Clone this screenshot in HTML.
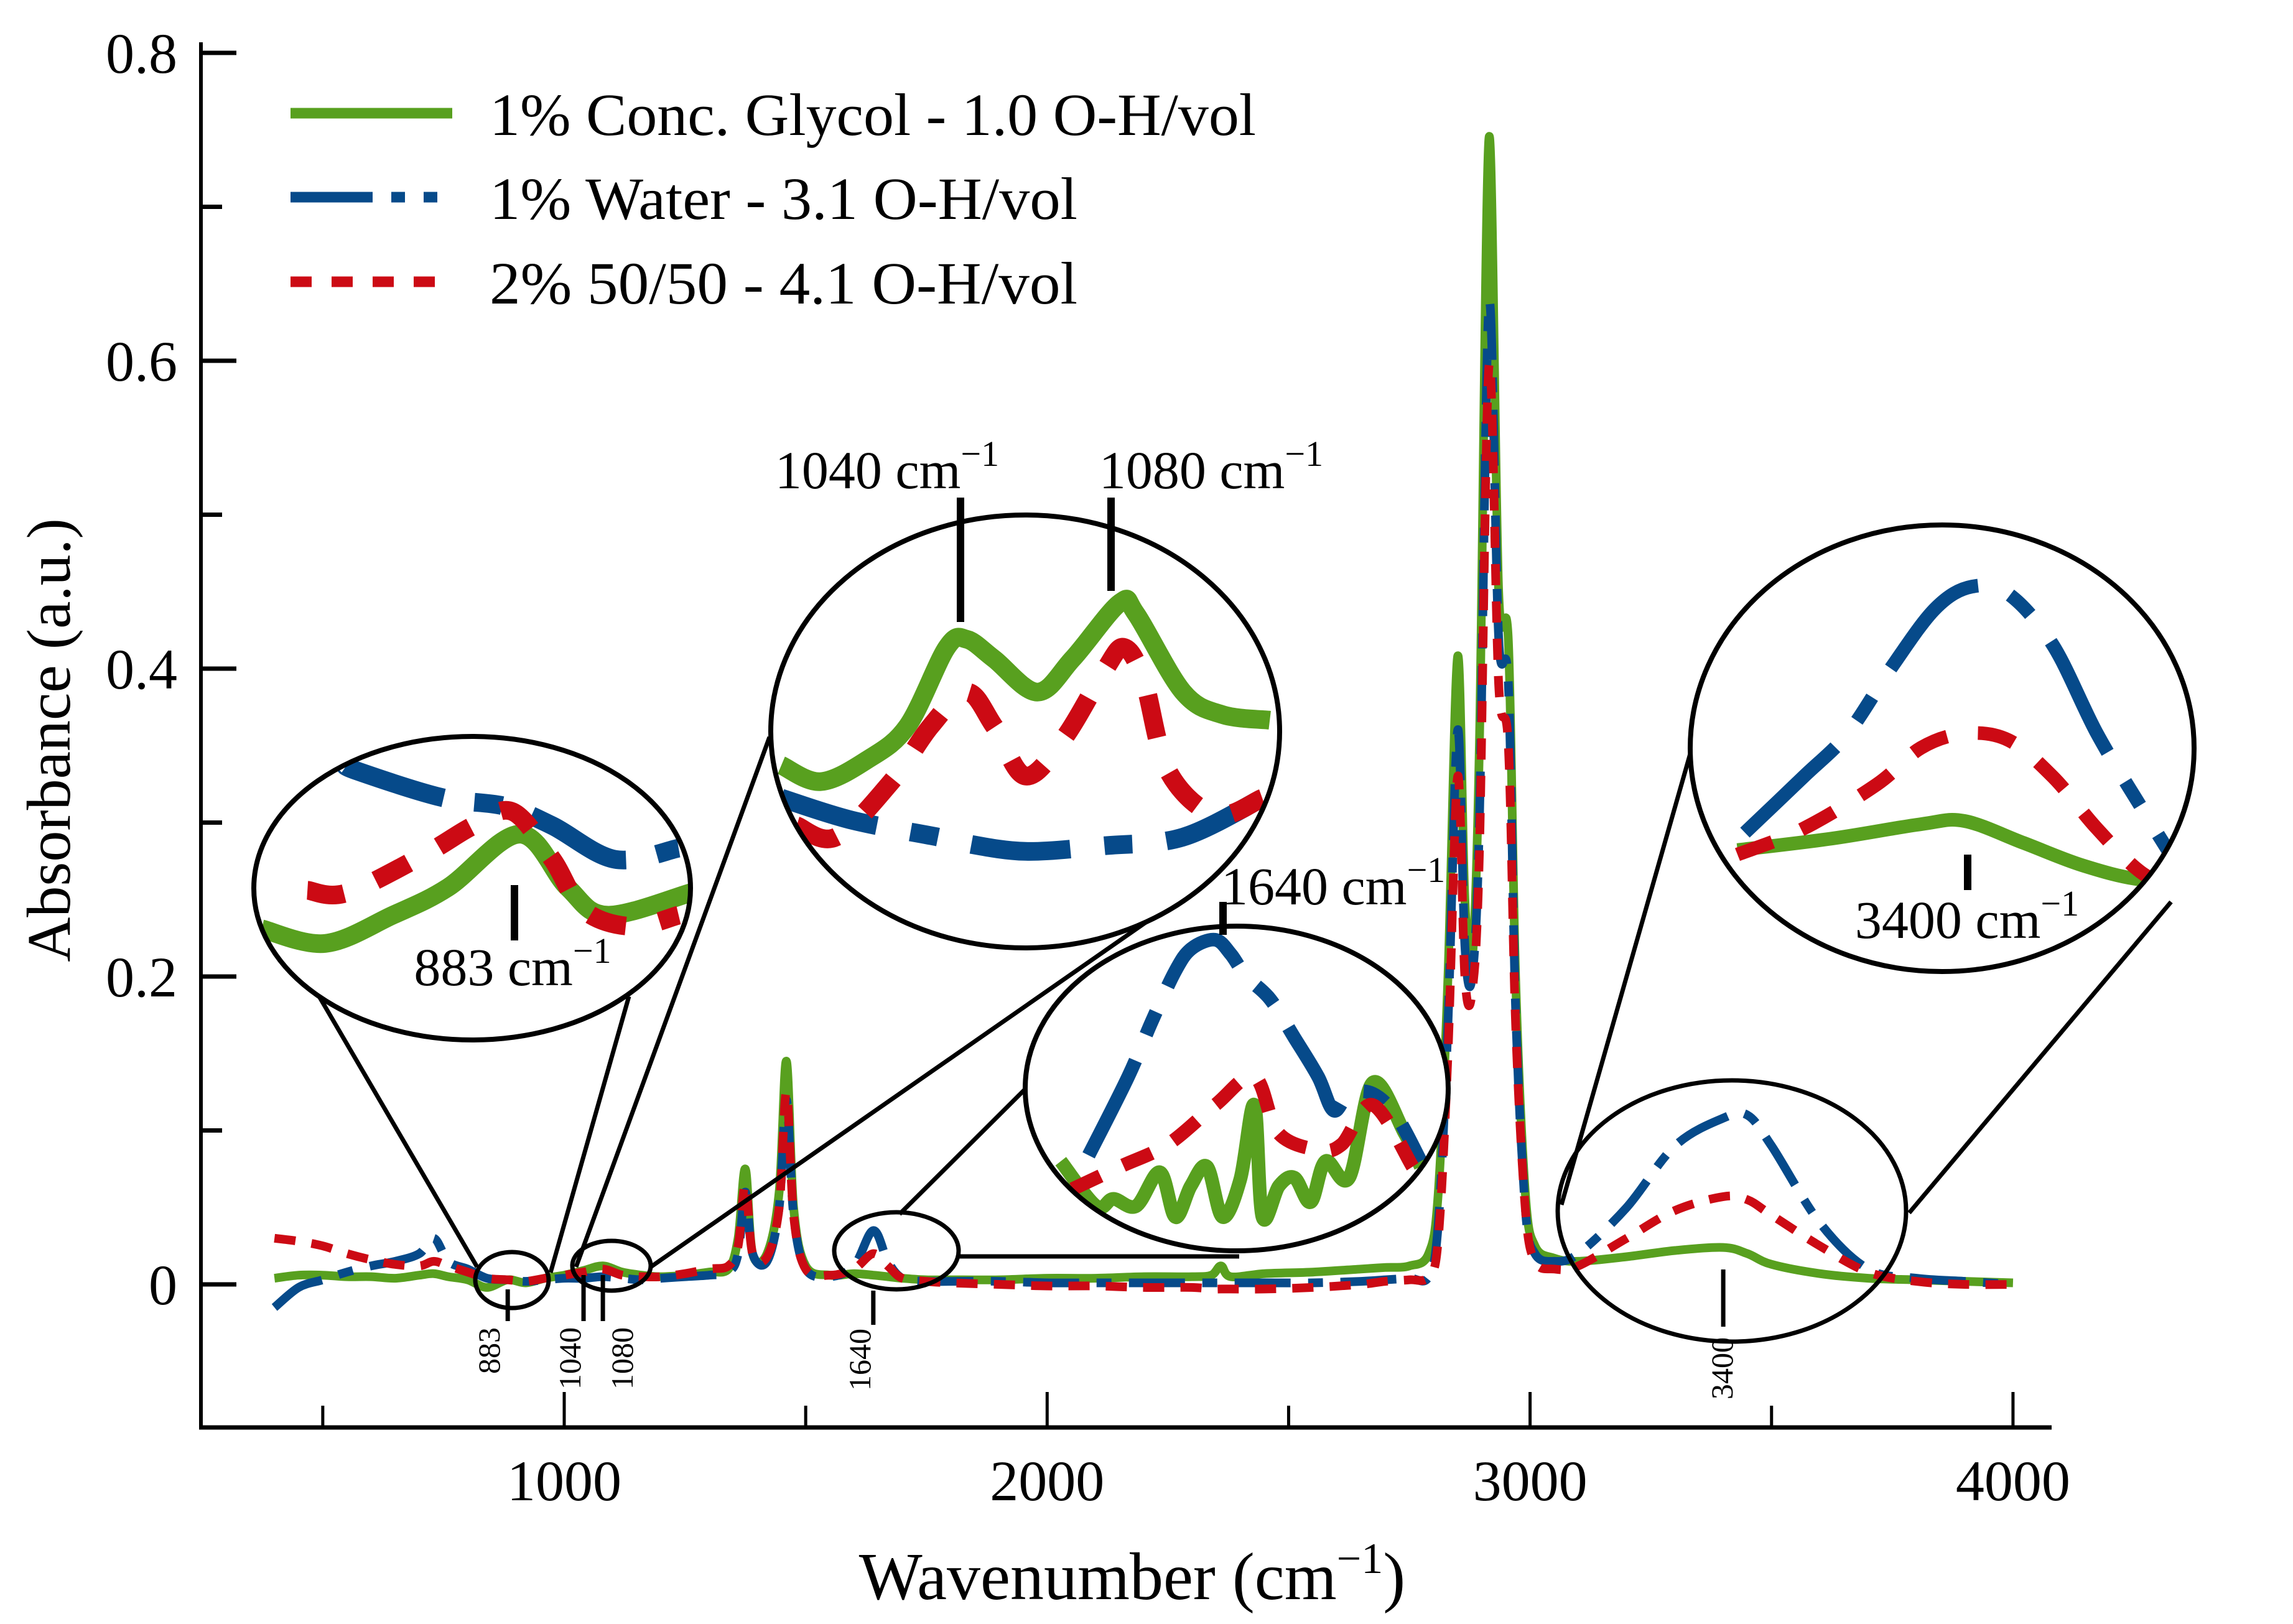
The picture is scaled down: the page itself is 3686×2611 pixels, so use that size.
<!DOCTYPE html>
<html><head><meta charset="utf-8"><style>
html,body{margin:0;padding:0;background:#fff;}
svg{display:block;font-family:"Liberation Serif",serif;}
</style></head><body>
<svg id="chart" width="3686" height="2611" viewBox="0 0 3686 2611" xmlns="http://www.w3.org/2000/svg">
<rect x="0" y="0" width="3686" height="2611" fill="#fff"/>
<g id="axes"></g>
<g id="series"></g>
<g id="zoom"></g>
<g id="legend"></g>
</svg>
<script>
const wavenumbers=[400,450,500,550,600,650,700,730,760,800,840,883,920,960,1000,1040,1080,1120,1160,1200,1250,1300,1340,1360,1375,1390,1420,1445,1460,1475,1500,1550,1600,1640,1670,1700,1750,1800,1900,2000,2100,2200,2300,2340,2360,2380,2450,2550,2650,2700,2750,2790,2810,2830,2850,2865,2880,2895,2915,2935,2955,2970,2990,3010,3050,3100,3200,3300,3400,3450,3500,3600,3700,3800,3900,4000];
const glycolValues=[0.004,0.006,0.006,0.005,0.005,0.004,0.006,0.007,0.005,0.003,-0.002,0.003,0.001,0.004,0.006,0.009,0.012,0.008,0.006,0.005,0.006,0.008,0.010,0.030,0.075,0.020,0.020,0.060,0.145,0.050,0.012,0.006,0.007,0.006,0.005,0.004,0.003,0.003,0.003,0.004,0.004,0.005,0.005,0.006,0.012,0.005,0.007,0.008,0.010,0.011,0.012,0.020,0.060,0.200,0.408,0.250,0.210,0.350,0.745,0.450,0.418,0.200,0.060,0.025,0.017,0.015,0.018,0.022,0.024,0.020,0.013,0.007,0.004,0.003,0.002,0.001];
const waterValues=[-0.015,-0.002,0.003,0.008,0.012,0.015,0.020,0.030,0.015,0.010,0.004,0.003,0.002,0.003,0.004,0.004,0.005,0.004,0.003,0.004,0.005,0.006,0.008,0.020,0.060,0.020,0.015,0.050,0.120,0.045,0.010,0.005,0.012,0.035,0.015,0.004,0.002,0.002,0.002,0.001,0.001,0.001,0.001,0.001,0.001,0.001,0.001,0.001,0.002,0.003,0.004,0.005,0.040,0.170,0.360,0.220,0.200,0.300,0.637,0.420,0.390,0.180,0.050,0.020,0.015,0.020,0.050,0.090,0.108,0.110,0.090,0.040,0.010,0.004,0.002,0.000];
const mixValues=[0.030,0.028,0.025,0.020,0.016,0.013,0.012,0.015,0.012,0.008,0.004,0.003,0.002,0.004,0.006,0.008,0.010,0.006,0.005,0.005,0.007,0.010,0.012,0.025,0.065,0.020,0.018,0.050,0.125,0.045,0.010,0.006,0.010,0.020,0.012,0.004,0.002,0.001,0.000,-0.001,-0.001,-0.002,-0.002,-0.003,-0.003,-0.003,-0.003,-0.002,0.000,0.002,0.003,0.005,0.030,0.150,0.330,0.200,0.190,0.280,0.597,0.390,0.350,0.170,0.050,0.015,0.010,0.012,0.030,0.048,0.057,0.055,0.045,0.025,0.008,0.002,0.000,0.000];
const yTicks=[0,0.2,0.4,0.6,0.8];
const yTickLabels=["0","0.2","0.4","0.6","0.8"];
const yMinorTicks=[0.1,0.3,0.5,0.7];
const xTicks=[1000,2000,3000,4000];
const xTickLabels=["1000","2000","3000","4000"];
const xMinorTicks=[500,1500,2500,3500];
const peakMarkers=[883,1040,1080,1640,3400];
const peakMarkerLabels=["883","1040","1080","1640","3400"];
const legendLabels=["1% Conc. Glycol - 1.0 O-H/vol","1% Water - 3.1 O-H/vol","2% 50/50 - 4.1 O-H/vol"];
// inset 883
const insA_glyWn=[820,836,853,867,885,897,907,928];
const insA_glyV=[3.66,3.18,4.11,5.03,6.78,5.03,4.11,4.85];
const insA_watWn=[841.5,843.4,865.3,881.2,893.2,909,925];
const insA_watV=[9.07,8.89,7.99,7.70,7.06,5.95,6.32];
const insA_mixWn=[831.5,841.5,861.4,873.3,883.2,893.2,901,913.1,925];
const insA_mixV=[4.93,4.85,6.14,7.06,7.52,5.95,4.29,3.74,4.11];
// inset 1040/1080
const insB_glyWn=[992.8,1003.2,1015.7,1026.3,1036.7,1042,1049.2,1060.7,1070.1,1082.6,1086.9,1099.4,1109.8,1122.4];
const insB_glyV=[4.22,3.84,4.35,5.13,6.94,7.13,6.68,5.91,6.68,7.97,7.72,5.91,5.39,5.26];
const insB_watWn=[992.8,1011.5,1034.4,1040.7,1057.6,1078.6,1099.4,1120.4];
const insB_watV=[3.46,2.95,2.56,2.43,2.23,2.36,2.56,3.46];
const insB_mixWn=[996.9,1007.3,1022,1032.5,1042,1049.2,1057.6,1068,1078.6,1083.8,1089,1095.4,1107.9,1120.4];
const insB_mixV=[2.82,2.56,3.84,5.13,5.91,5.13,3.97,4.87,6.42,6.94,6.16,4.09,3.07,3.46];
// inset 1640
const insC_glyWn=[1594.1,1604.1,1609,1615.5,1622.2,1626.6,1631,1635.6,1640,1645,1649,1651.3,1656,1660.4,1665,1669.2,1675.9,1682.6,1691.6,1696.2];
const insC_glyV=[2.76,1.38,1.6,1.38,2.42,1.04,2.0,2.59,1.04,2.2,4.49,1.04,2.0,2.25,1.5,2.76,2.25,5.18,3.63,2.59];
const insC_watWn=[1602,1613.2,1619.9,1626.6,1631.2,1637.9,1642.3,1646.7,1653.5,1660.4,1667.1,1671.5,1675.9,1682.6,1689.3,1696.2];
const insC_watV=[2.94,5.36,7.06,8.62,9.31,9.58,9.14,8.45,7.75,6.56,5.36,4.32,4.84,4.84,4.15,2.76];
const insC_mixWn=[1597.4,1610.9,1624.5,1637.9,1649,1655.8,1667.1,1673.8,1682.6,1693.9];
const insC_mixV=[1.9,2.59,3.28,4.49,5.36,3.63,3.11,3.28,4.49,2.59];
// inset 3400
const insD_glyWn=[3126.3,3239.6,3344.8,3396.7,3467,3536.7,3606.3,3675.9];
const insD_glyV=[2.72,2.98,3.30,3.37,2.88,2.38,2.06,2.06];
const insD_watWn=[3135.2,3204.8,3257.4,3310,3361.9,3405.6,3449.3,3501.9,3554.4,3606.3,3650];
const insD_watV=[3.11,4.36,5.33,6.82,8.13,8.62,8.45,7.31,5.33,3.70,2.38];
const insD_mixWn=[3126.3,3204.8,3292.2,3344.8,3396.7,3449.3,3501.9,3554.4,3606.3,3658.9];
const insD_mixV=[2.62,3.20,4.19,5.01,5.33,5.18,4.36,3.20,2.23,1.73];

const NS="http://www.w3.org/2000/svg";
const GREEN="#58a01f",BLUE="#064a8a",RED="#cc0a14";
function xS(w){return 907+(w-1000)*0.7763;}
function yS(v){return 2065-v*2475;}
function mk(tag,attrs,parent){const e=document.createElementNS(NS,tag);for(const k in attrs)e.setAttribute(k,attrs[k]);parent.appendChild(e);return e;}
function smooth(pts){let d=`M${pts[0][0].toFixed(1)},${pts[0][1].toFixed(1)}`;for(let i=0;i<pts.length-1;i++){const p0=pts[i-1]||pts[i],p1=pts[i],p2=pts[i+1],p3=pts[i+2]||p2;const c1x=p1[0]+(p2[0]-p0[0])/6,c1y=p1[1]+(p2[1]-p0[1])/6,c2x=p2[0]-(p3[0]-p1[0])/6,c2y=p2[1]-(p3[1]-p1[1])/6;d+=` C${c1x.toFixed(1)},${c1y.toFixed(1)} ${c2x.toFixed(1)},${c2y.toFixed(1)} ${p2[0].toFixed(1)},${p2[1].toFixed(1)}`;}return d;}

const axes=document.getElementById('axes');
const al=mk('line',{x1:323,y1:68,x2:323,y2:2298,stroke:'#000','stroke-width':6},axes);


const bl=mk('line',{x1:320,y1:2295,x2:3298,y2:2295,stroke:'#000','stroke-width':7},axes);


yTicks.forEach((v,i)=>{
  const t=mk('line',{x1:323,y1:yS(v),x2:380,y2:yS(v),stroke:'#000','stroke-width':7},axes);
  
  
  const l=mk('text',{x:285,y:yS(v)+32,'text-anchor':'end','font-size':92},axes);
  l.textContent=yTickLabels[i];
  
  
});
yMinorTicks.forEach(v=>{
  const t=mk('line',{x1:323,y1:yS(v),x2:357,y2:yS(v),stroke:'#000','stroke-width':7},axes);
  
  
});
xTicks.forEach((w,i)=>{
  const t=mk('line',{x1:xS(w),y1:2295,x2:xS(w),y2:2238,stroke:'#000','stroke-width':5},axes);
  
  
  const l=mk('text',{x:xS(w),y:2412,'text-anchor':'middle','font-size':92},axes);
  l.textContent=xTickLabels[i];
  
  
});
xMinorTicks.forEach(w=>{
  const t=mk('line',{x1:xS(w),y1:2295,x2:xS(w),y2:2260,stroke:'#000','stroke-width':5},axes);
  
  
});
const xt=mk('text',{x:1820,y:2571,'text-anchor':'middle','font-size':108},axes);
xt.innerHTML='Wavenumber (cm<tspan font-size="70" dy="-42">−1</tspan><tspan dy="42">)</tspan>';


const yt=mk('text',{x:0,y:0,'text-anchor':'middle','font-size':100,transform:'translate(112,1190) rotate(-90)'},axes);
yt.textContent='Absorbance (a.u.)';



const series=document.getElementById('series');
function mainPath(vals,color,dash,name){
  const pts=wavenumbers.map((w,i)=>[xS(w),yS(vals[i])]);
  const p=mk('path',{d:smooth(pts),fill:'none',stroke:color,'stroke-width':14,'stroke-linejoin':'round'},series);
  if(dash)p.setAttribute('stroke-dasharray',dash);
  
  
}
mainPath(glycolValues,GREEN,null,'glycol-line');
mainPath(waterValues,BLUE,'90 28 24 28','water-line');
mainPath(mixValues,RED,'34 26','mix-line');

const markerY=[[2073,2124],[2050,2124],[2050,2124],[2075,2130],[2041,2133]];
const labelDX=[-13,-5,48,-5,15];
const labelEnd=[2134,2134,2134,2136,2150];
peakMarkers.forEach((w,i)=>{
  const m=mk('line',{x1:xS(w),y1:markerY[i][0],x2:xS(w),y2:markerY[i][1],stroke:'#000','stroke-width':7},series);
  
  
  const t=mk('text',{x:0,y:0,'text-anchor':'end','font-size':50,transform:`translate(${xS(w)+labelDX[i]},${labelEnd[i]}) rotate(-90)`},series);
  t.textContent=peakMarkerLabels[i];
  
  
});

const zoom=document.getElementById('zoom');
const conn=[[513,1602,767,2037],[1011,1602,885,2046],[1237,1185,926,2037],[1046,2037,1915,1432],[1446,1952,1649,1750],[1541,2020,1992,2020],[2510,1937,2717,1212],[3069,1950,3490,1450]];
conn.forEach(c=>{
  const l=mk('line',{x1:c[0],y1:c[1],x2:c[2],y2:c[3],stroke:'#000','stroke-width':7},zoom);
  
  
});
const smallCircles=[[823,2058,59,45],[983,2035,63,40],[1441,2011,100,62],[2784,1947,280,210]];
smallCircles.forEach(c=>{
  const e=mk('ellipse',{cx:c[0],cy:c[1],rx:c[2],ry:c[3],fill:'none',stroke:'#000','stroke-width':7},zoom);
  
  
});
const defs=mk('defs',{},zoom);
function inset(id,cx,cy,rx,ry,dom,sw,data,name){
  const cp=mk('clipPath',{id:'clip'+id},defs);
  mk('ellipse',{cx,cy,rx,ry},cp);
  const g=mk('g',{},zoom);
  
  
  mk('ellipse',{cx,cy,rx,ry,fill:'#fff'},g);
  const gi=mk('g',{'clip-path':`url(#clip${id})`},g);
  const fx=w=>cx-rx+(w-dom[0])/(dom[1]-dom[0])*2*rx;
  const fy=v=>cy+ry-v/10*2*ry;
  data.forEach(s=>{
    const pts=s.wn.map((w,i)=>[fx(w),fy(s.v[i])]);
    const p=mk('path',{d:smooth(pts),fill:'none',stroke:s.c,'stroke-width':sw,'stroke-linejoin':'round'},gi);
    if(s.dash)p.setAttribute('stroke-dasharray',s.dash);
    
    
  });
  const o=mk('ellipse',{cx,cy,rx,ry,fill:'none',stroke:'#000','stroke-width':8},g);
  
  
  return g;
}
inset('A',759,1428,351,244,[818,928],30,[
 {wn:insA_glyWn,v:insA_glyV,c:GREEN,n:'inset-883-glycol'},
 {wn:insA_watWn,v:insA_watV,c:BLUE,dash:'170 50 45 50',n:'inset-883-water'},
 {wn:insA_mixWn,v:insA_mixV,c:RED,dash:'60 55',n:'inset-883-mix'}],'inset-883');
inset('B',1648,1176,409,348,[990,1125],30,[
 {wn:insB_glyWn,v:insB_glyV,c:GREEN,n:'inset-1040-glycol'},
 {wn:insB_watWn,v:insB_watV,c:BLUE,dash:'160 55 45 55',n:'inset-1040-water'},
 {wn:insB_mixWn,v:insB_mixV,c:RED,dash:'70 60',n:'inset-1040-mix'}],'inset-1040-1080');
inset('C',1988,1750,340,261,[1584,1704],22,[
 {wn:insC_glyWn,v:insC_glyV,c:GREEN,n:'inset-1640-glycol'},
 {wn:insC_watWn,v:insC_watV,c:BLUE,dash:'170 45 40 45',n:'inset-1640-water'},
 {wn:insC_mixWn,v:insC_mixV,c:RED,dash:'50 40',n:'inset-1640-mix'}],'inset-1640');
inset('D',3122,1203,405,359,[3070,3670],22,[
 {wn:insD_glyWn,v:insD_glyV,c:GREEN,n:'inset-3400-glycol'},
 {wn:insD_watWn,v:insD_watV,c:BLUE,dash:'200 55 45 55',n:'inset-3400-water'},
 {wn:insD_mixWn,v:insD_mixV,c:RED,dash:'60 50',n:'inset-3400-mix'}],'inset-3400');

const insetMarks=[[827,1423,827,1512],[1544,800,1544,1000],[1786,800,1786,950],[1966,1450,1966,1503],[3163,1374,3163,1431]];
insetMarks.forEach(m=>{
  const l=mk('line',{x1:m[0],y1:m[1],x2:m[2],y2:m[3],stroke:'#000','stroke-width':12},zoom);
  
  
});
const insetLabels=[['883',824,1584,'middle'],['1040',1426,785,'middle'],['1080',1947,785,'middle'],['1640',1963,1454,'start'],['3400',3162,1508,'middle']];
insetLabels.forEach(a=>{
  const t=mk('text',{x:a[1],y:a[2],'text-anchor':a[3],'font-size':86},zoom);
  t.innerHTML=a[0]+' cm<tspan font-size="58" dy="-36">−1</tspan>';
  
  
});

const legend=document.getElementById('legend');
const ly=[182,317,453];
const lg=mk('line',{x1:467,y1:ly[0],x2:727,y2:ly[0],stroke:GREEN,'stroke-width':17},legend);


const lb=mk('line',{x1:467,y1:ly[1],x2:727,y2:ly[1],stroke:BLUE,'stroke-width':17,'stroke-dasharray':'132 30 22 30 22 40'},legend);


const lr=mk('line',{x1:467,y1:ly[2],x2:700,y2:ly[2],stroke:RED,'stroke-width':17,'stroke-dasharray':'34 32'},legend);


const lw=[1232,945,945];
legendLabels.forEach((s,i)=>{
  const t=mk('text',{x:787,y:ly[i]+35,'font-size':96,textLength:lw[i],lengthAdjust:'spacingAndGlyphs'},legend);
  t.textContent=s;
  
  
});
</script>
</body></html>
